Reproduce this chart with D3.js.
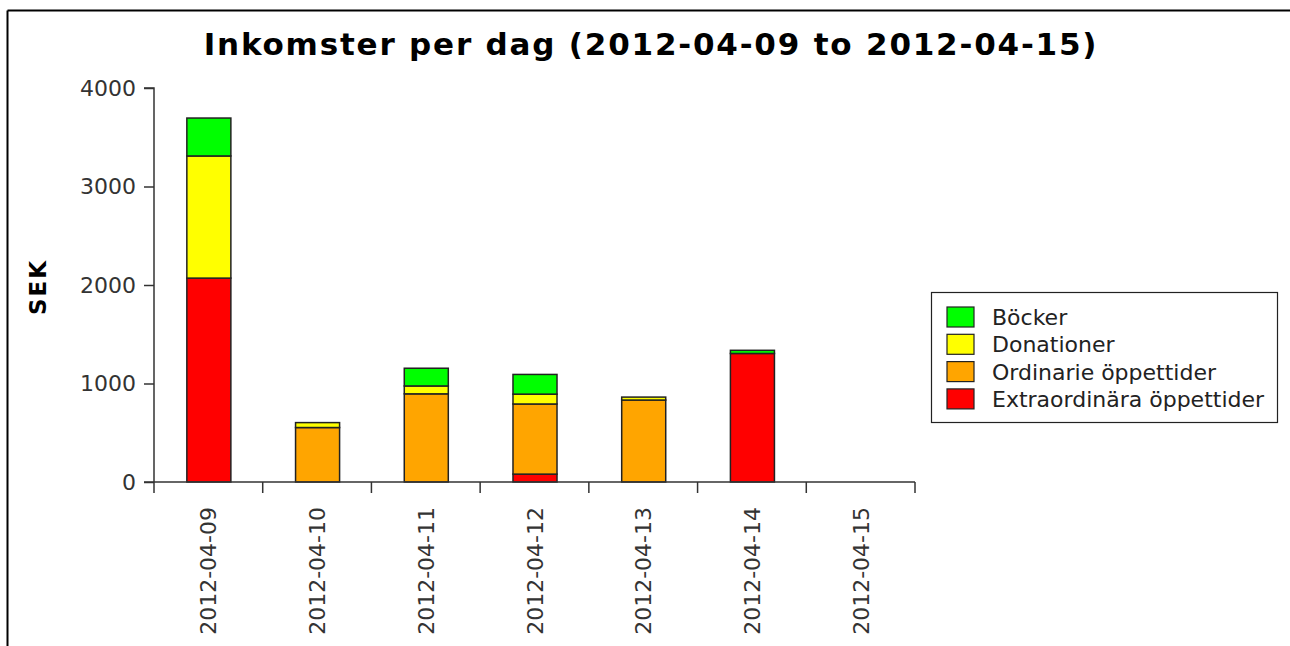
<!DOCTYPE html>
<html>
<head>
<meta charset="utf-8">
<script src="https://cdn.jsdelivr.net/npm/d3@7"></script>
<style>
  body { margin: 0; background: #fff; }
  svg { display: block; font-family: "DejaVu Sans", sans-serif; }
</style>
</head>
<body>
<div id="viz"></div>
<script>
// data
const days = ["2012-04-09", "2012-04-10", "2012-04-11", "2012-04-12", "2012-04-13", "2012-04-14", "2012-04-15"]
const extraordinara = [2070, 0, 0, 80, 0, 1305, 0]
const ordinarie = [0, 553, 895, 712, 832, 0, 0]
const donationer = [1240, 50, 80, 100, 30, 0, 0]
const bocker = [385, 0, 180, 200, 0, 32, 0]
const seriesNames = ["Böcker", "Donationer", "Ordinarie öppettider", "Extraordinära öppettider"]
const seriesColors = ["#00ff00", "#ffff00", "#ffa500", "#ff0000"]
const yTicks = [0, 1000, 2000, 3000, 4000]

const width = 1290
const height = 646
const margin = {top: 88, left: 154, right: 375, bottom: 164}

const svg = d3.select("#viz").append("svg").attr("width", width).attr("height", height)

// frame lines (top and left only are visible)
svg.append("line").attr("x1", 7.5).attr("x2", width).attr("y1", 10.5).attr("y2", 10.5)
    .attr("stroke", "#000").attr("stroke-width", 2)
svg.append("line").attr("x1", 7.5).attr("x2", 7.5).attr("y1", 10.5).attr("y2", height)
    .attr("stroke", "#000").attr("stroke-width", 2)

svg.append("text").attr("x", 651).attr("y", 55).attr("text-anchor", "middle")
    .attr("font-weight", "bold").attr("font-size", 31).attr("letter-spacing", 1.8)
    .text("Inkomster per dag (2012-04-09 to 2012-04-15)")

const xScale = d3.scaleBand().domain(days).range([margin.left, width - margin.right]).paddingInner(0).paddingOuter(0)
const yScale = d3.scaleLinear().domain([0, 4000]).range([height - margin.bottom, margin.top])

// stack from bottom: extra, ordinarie, donationer, bocker
const table = days.map((d, i) => ({day: d, e: extraordinara[i], o: ordinarie[i], dn: donationer[i], b: bocker[i]}))
const keys = ["e", "o", "dn", "b"]
const keyColor = {e: seriesColors[3], o: seriesColors[2], dn: seriesColors[1], b: seriesColors[0]}
const stacked = d3.stack().keys(keys)(table)

const barW = xScale.bandwidth() * 0.405
svg.append("g").selectAll("g").data(stacked).join("g")
    .attr("fill", s => keyColor[s.key])
    .selectAll("rect").data(s => s.filter(d => d[1] - d[0] > 0)).join("rect")
    .attr("x", d => xScale(d.data.day) + xScale.bandwidth() / 2 - barW / 2 + 0.5)
    .attr("y", d => yScale(d[1]))
    .attr("width", barW)
    .attr("height", d => yScale(d[0]) - yScale(d[1]))
    .attr("stroke", "#222").attr("stroke-width", 1.5)

// y axis
const yAxis = d3.axisLeft(yScale).tickValues(yTicks).tickFormat(d3.format("d")).tickSize(10).tickPadding(8).tickSizeOuter(0)
const gy = svg.append("g").attr("transform", `translate(${margin.left},0)`).call(yAxis)
gy.selectAll("text").attr("font-size", 22).attr("fill", "#333").attr("font-family", "DejaVu Sans")
gy.selectAll("line, path").attr("stroke", "#333").attr("stroke-width", 1.5)
gy.select(".domain").attr("d", `M0,${yScale(0)}V${yScale(4000)}H-10`)

// x axis: ticks at band edges
const x0 = yScale(0)
const gx = svg.append("g")
gx.append("line").attr("x1", margin.left - 10).attr("x2", width - margin.right).attr("y1", x0).attr("y2", x0)
    .attr("stroke", "#333").attr("stroke-width", 1.5)
gx.selectAll(".tk").data(days.concat(["end"])).join("line")
    .attr("x1", (d, i) => i < days.length ? xScale(d) : xScale.range()[1])
    .attr("x2", (d, i) => i < days.length ? xScale(d) : xScale.range()[1])
    .attr("y1", x0).attr("y2", x0 + 11)
    .attr("stroke", "#333").attr("stroke-width", 1.5)
gx.selectAll("text").data(days).join("text")
    .attr("transform", d => `translate(${xScale(d) + xScale.bandwidth() / 2 + 8},${x0 + 25}) rotate(-90)`)
    .attr("text-anchor", "end")
    .attr("font-size", 22).attr("fill", "#333")
    .text(d => d)

svg.append("text").attr("transform", "translate(46,287) rotate(-90)").attr("text-anchor", "middle")
    .attr("font-weight", "bold").attr("font-size", 23).attr("letter-spacing", 2).text("SEK")

// legend
const lg = svg.append("g").attr("transform", "translate(931,292)")
lg.append("rect").attr("x", 0.5).attr("y", 0.5).attr("width", 346).attr("height", 130)
    .attr("fill", "#fff").attr("stroke", "#222").attr("stroke-width", 1.2)
const rows = lg.selectAll("g").data(seriesNames).join("g")
    .attr("transform", (d, i) => `translate(0,${15 + i * 27.3})`)
rows.append("rect").attr("x", 16).attr("y", 0).attr("width", 27).attr("height", 20)
    .attr("fill", (d, i) => seriesColors[i]).attr("stroke", "#222").attr("stroke-width", 1.2)
rows.append("text").attr("x", 61).attr("y", 18).attr("font-size", 22).attr("fill", "#222").text(d => d)
</script>
</body>
</html>
